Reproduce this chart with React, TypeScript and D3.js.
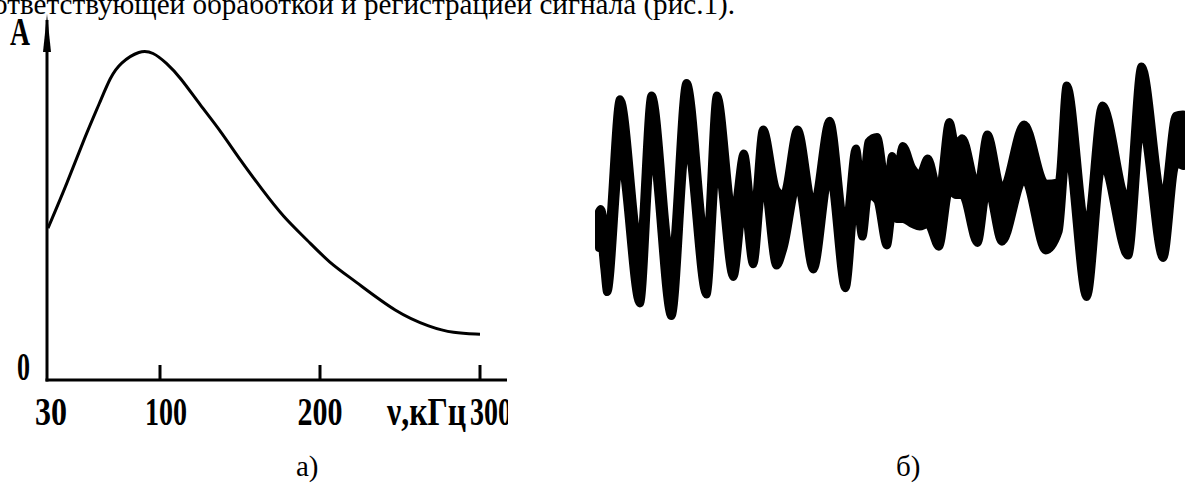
import React from 'react';
import * as d3 from 'd3';

// (a) spectrum: frequency, kHz and relative amplitude
const freq = [30, 42, 53, 62.5, 69, 75, 87.5, 95.6, 104, 112.5, 125, 137.5, 150, 164, 177, 192, 206, 221, 248, 269, 283, 300];
const amp = [0.434, 0.563, 0.694, 0.794, 0.866, 0.906, 0.943, 0.937, 0.906, 0.866, 0.786, 0.714, 0.629, 0.543, 0.466, 0.4, 0.334, 0.286, 0.191, 0.151, 0.134, 0.131];
const xTicks = [100, 200, 300];
const xLabels = ['30', '100', '200'];

// (б) recorded signal: time (arb. units), upper and lower edge of the trace
const sigT = [0, 0.3, 0.9, 1.4, 3.6, 7.0, 9.0, 12.4, 15.0, 18.4, 20.2, 23.0, 24.8, 26.4, 28.1, 30.4, 31.6, 34.0, 36.7, 39.5, 42.2, 44.0, 45.1, 46.1, 47.6, 49.3, 50.2, 51.0, 52.0, 53.7, 54.9, 56.3, 58.2, 60.0, 61.1, 62.2, 64.8, 66.5, 69.0, 72.8, 76.5, 78.7, 80.1, 83.5, 86.2, 90.6, 92.9, 96.6, 98.8, 100];
const sigTop = [-0.17, -0.15, -0.27, -0.42, 0.72, -0.46, 0.75, -0.56, 0.85, -0.44, 0.75, -0.21, 0.29, -0.25, 0.48, 0.0, -0.04, 0.48, -0.13, 0.55, -0.31, 0.33, -0.08, 0.38, 0.42, 0.0, 0.27, 0.12, 0.35, 0.17, 0.12, 0.25, -0.02, 0.54, 0.35, 0.41, 0.02, 0.44, 0.0, 0.52, 0.05, 0.06, 0.83, -0.31, 0.67, -0.1, 0.98, -0.08, 0.59, 0.6];
const sigBottom = [-0.46, -0.38, -0.62, -0.81, 0.25, -0.9, 0.33, -1.0, 0.38, -0.83, 0.23, -0.69, -0.1, -0.59, 0.1, -0.6, -0.46, 0.05, -0.63, 0.13, -0.78, -0.04, -0.37, -0.04, -0.08, -0.44, -0.19, -0.23, -0.23, -0.27, -0.29, -0.27, -0.45, 0.0, -0.04, -0.04, -0.42, 0.02, -0.41, 0.09, -0.48, -0.33, 0.33, -0.85, 0.21, -0.52, 0.52, -0.54, 0.21, 0.19];

const W = 1185;
const H = 483;
const serif = '"Liberation Serif", "Times New Roman", serif';

export default function App() {
  // left chart scales
  const x = d3.scaleLinear().domain([0, 300]).range([0, 480]);
  const y = d3.scaleLinear().domain([0, 1]).range([380, 30]);
  const spectrum = d3
    .line<number>()
    .x((d, i) => x(freq[i]))
    .y((d) => y(d))
    .curve(d3.curveBasis)(amp);

  // right chart scales
  const t = d3.scaleLinear().domain([0, 100]).range([599, 1183]);
  const a = d3.scaleLinear().domain([-1, 1]).range([316, 64]);
  const band = d3
    .area<number>()
    .x((d) => t(d))
    .y0((d, i) => a(sigBottom[i]))
    .y1((d, i) => a(sigTop[i]))
    .curve(d3.curveMonotoneX)(sigT);

  const x0 = x(30);
  const yBase = y(0);

  return (
    <div style={{ position: 'absolute', left: 0, top: 0 }}>
      <svg width={W} height={H} style={{ display: 'block', background: '#fff' }}>
        <defs>
          <clipPath id="clipLeft">
            <rect x={0} y={0} width={508} height={H} />
          </clipPath>
          <clipPath id="clipSig">
            <rect x={590} y={0} width={W - 590} height={H} />
          </clipPath>
        </defs>

        {/* running text, cut at the top */}
        <text x={-7} y={14} fontFamily={serif} fontSize={30} textLength={742} lengthAdjust="spacingAndGlyphs">
          ответствующей обработкой и регистрацией сигнала (рис.1).
        </text>

        {/* axes */}
        <line x1={x0 - 1} x2={x0 - 1} y1={20} y2={yBase + 1.5} stroke="#000" strokeWidth={3} />
        <path d={`M${x0 - 1},14 L${x0 + 3},52 L${x0 - 5},52 Z`} fill="#000" />
        <line x1={x0 - 2.5} x2={507} y1={yBase} y2={yBase} stroke="#000" strokeWidth={3} />
        {xTicks.map((v) => (
          <line key={v} x1={x(v)} x2={x(v)} y1={yBase - 15} y2={yBase} stroke="#000" strokeWidth={3} />
        ))}

        {/* spectrum curve */}
        <path d={spectrum ?? ''} fill="none" stroke="#000" strokeWidth={3} strokeLinejoin="round" />

        {/* axis labels */}
        <g fontFamily={serif} fontWeight="bold" fontSize={40} fill="#000">
          <text x={10} y={45} textLength={20} lengthAdjust="spacingAndGlyphs">A</text>
          <text x={17} y={yBase} textLength={13} lengthAdjust="spacingAndGlyphs">0</text>
          {xLabels.map((s, i) => {
            const v = [30, 100, 200][i];
            const w = [32, 42, 45][i];
            const dx = [3, 6, 0][i];
            return (
              <text key={s} x={x(v) + dx - w / 2} y={425} textLength={w} lengthAdjust="spacingAndGlyphs">
                {s}
              </text>
            );
          })}
          <text x={x(300) - 93} y={425} textLength={79} lengthAdjust="spacingAndGlyphs">ν,кГц</text>
          <g clipPath="url(#clipLeft)">
            <text x={x(300) - 10} y={425} textLength={42} lengthAdjust="spacingAndGlyphs">300</text>
          </g>
        </g>

        {/* signal trace */}
        <g clipPath="url(#clipSig)">
          <path d={band ?? ''} fill="#000" stroke="#000" strokeWidth={8} strokeLinejoin="round" />
        </g>

        {/* captions */}
        <g fontFamily={serif} fontSize={29} fill="#000">
          <text x={296} y={476}>а)</text>
          <text x={896} y={476}>б)</text>
        </g>
      </svg>
    </div>
  );
}
